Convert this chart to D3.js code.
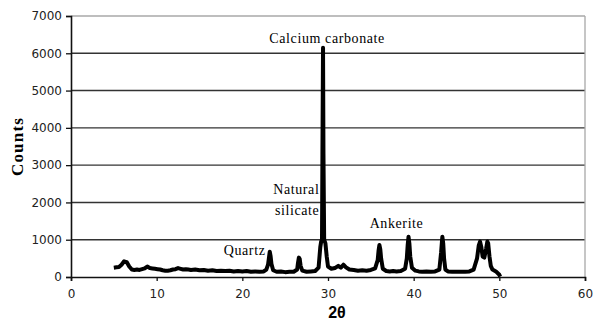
<!DOCTYPE html>
<html>
<head>
<meta charset="utf-8">
<script src="https://cdn.jsdelivr.net/npm/d3@7"></script>
<style>
  body { margin: 0; background: #fff; }
  svg { display: block; }
</style>
</head>
<body>
<div id="chart"></div>
<script>
// XRD pattern
const twoTheta = [5.0, 5.3, 5.6, 5.9, 6.2, 6.5, 6.8, 7.1, 7.4, 7.7, 8.0, 8.3, 8.6, 8.9, 9.2, 9.5, 9.8,
  10.1, 10.4, 10.7, 11.0, 11.3, 11.6, 11.9, 12.2, 12.5, 12.8, 13.1, 13.4, 13.7, 14.0, 14.5, 15.0, 15.5,
  16.0, 16.5, 17.0, 17.5, 18.0, 18.5, 19.0, 19.5, 20.0, 20.5, 21.0, 21.5, 22.0, 22.5, 22.8, 23.0, 23.1,
  23.2, 23.3, 23.4, 23.6, 24.0, 24.5, 25.0, 25.5, 26.0, 26.4, 26.5, 26.6, 26.7, 26.8, 27.0, 27.5, 28.0,
  28.5, 28.9, 29.1, 29.2, 29.3, 29.35, 29.42, 29.47, 29.55, 29.7, 29.85, 30.0, 30.4, 30.8, 31.2, 31.5,
  31.8, 32.1, 32.5, 33.0, 33.5, 34.0, 34.5, 35.0, 35.5, 35.8, 35.9, 36.0, 36.1, 36.2, 36.4, 36.8, 37.2,
  37.6, 38.0, 38.5, 39.0, 39.2, 39.3, 39.4, 39.5, 39.6, 39.8, 40.2, 40.6, 41.0, 41.5, 42.0, 42.5, 43.0,
  43.2, 43.3, 43.35, 43.45, 43.55, 43.7, 44.0, 44.5, 45.0, 45.5, 46.0, 46.5, 47.0, 47.4, 47.6, 47.75,
  47.9, 48.05, 48.25, 48.45, 48.6, 48.7, 48.85, 49.0, 49.2, 49.6, 50.0, 50.1];
const counts = [250, 260, 270, 330, 420, 400, 280, 200, 190, 200, 190, 210, 230, 280, 240, 230, 220,
  210, 200, 180, 170, 170, 180, 200, 210, 240, 220, 200, 210, 200, 190, 200, 180, 190,
  170, 180, 160, 170, 160, 170, 150, 160, 150, 160, 140, 150, 140, 150, 200, 330, 500,
  680, 560, 350, 180, 140, 150, 130, 140, 140, 200, 380, 520, 480, 300, 170, 140, 150,
  160, 250, 800, 950, 1000, 3300, 6150, 3300, 1000, 900, 550, 280, 220, 240, 300, 250,
  330, 260, 200, 190, 170, 180, 170, 190, 230, 450, 700, 860, 750, 500, 220, 160, 150,
  160, 150, 160, 220, 500, 850, 1080, 900, 550, 250, 170, 150, 140, 150, 140, 150, 200,
  650, 950, 1080, 900, 500, 200, 150, 140, 140, 140, 140, 150, 200, 500, 850, 950,
  800, 550, 520, 750, 950, 900, 550, 300, 200, 150, 60, 10];

const xTicks = [0, 10, 20, 30, 40, 50, 60];
const yTicks = [0, 1000, 2000, 3000, 4000, 5000, 6000, 7000];

const labels = [
  {text: "Calcium carbonate", x: 29.9, y: 6270, anchor: "middle"},
  {text: "Natural", x: 29.0, y: 2220, anchor: "end"},
  {text: "silicate", x: 29.0, y: 1660, anchor: "end"},
  {text: "Ankerite", x: 38.0, y: 1310, anchor: "middle"},
  {text: "Quartz", x: 22.7, y: 580, anchor: "end"}
];

const W = 593, H = 327;
const margin = {top: 16, right: 8, bottom: 50, left: 71};
const width = W - margin.left - margin.right,
      height = H - margin.top - margin.bottom;

const svg = d3.select("#chart").append("svg")
  .attr("width", W)
  .attr("height", H);

const g = svg.append("g")
  .attr("transform", `translate(${margin.left},${margin.top})`);

const x = d3.scaleLinear().domain([0, 60]).range([0, width]);
const y = d3.scaleLinear().domain([0, 7000]).range([height, 0]);

// gridlines
g.selectAll(".grid")
  .data(yTicks.filter(d => d > 0))
  .enter().append("line")
  .attr("class", "grid")
  .attr("x1", 0).attr("x2", width)
  .attr("y1", d => y(d)).attr("y2", d => y(d))
  .attr("stroke", d => d === 7000 ? "#a8a8a8" : "#333")
  .attr("stroke-width", 1.4);

// right border
g.append("line")
  .attr("x1", width).attr("x2", width)
  .attr("y1", 0).attr("y2", height)
  .attr("stroke", "#a8a8a8").attr("stroke-width", 1.3);

const xAxis = g.append("g")
  .attr("transform", `translate(0,${height})`)
  .call(d3.axisBottom(x).tickValues(xTicks).tickSize(4).tickPadding(8));

const yAxis = g.append("g")
  .call(d3.axisLeft(y).tickValues(yTicks).tickSize(5).tickPadding(4).tickFormat(d3.format("d")));

[xAxis, yAxis].forEach(a => {
  a.select(".domain").attr("stroke", "#111").attr("stroke-width", 1.6);
  a.selectAll(".tick line").attr("stroke", "#111").attr("stroke-width", 1.3);
  a.selectAll("text")
    .attr("font-family", "DejaVu Sans, sans-serif")
    .attr("font-size", 12)
    .attr("fill", "#222");
});

// trace
const pts = twoTheta.map((t, i) => [t, counts[i]]);
const line = d3.line().x(d => x(d[0])).y(d => y(d[1]));
g.append("path")
  .datum(pts)
  .attr("d", line)
  .attr("fill", "none")
  .attr("stroke", "#000")
  .attr("stroke-width", 4)
  .attr("stroke-linejoin", "round");

// annotations
g.selectAll(".ann")
  .data(labels)
  .enter().append("text")
  .attr("class", "ann")
  .attr("x", d => x(d.x))
  .attr("y", d => y(d.y))
  .attr("text-anchor", d => d.anchor)
  .attr("font-family", "Liberation Serif, serif")
  .attr("font-size", 14)
  .attr("letter-spacing", 0.6)
  .text(d => d.text);

// axis titles
svg.append("text")
  .attr("x", margin.left + width / 2 + 9)
  .attr("y", 318)
  .attr("text-anchor", "middle")
  .attr("font-family", "Liberation Sans, Arial, sans-serif")
  .attr("font-weight", "bold")
  .attr("font-size", 16)
  .text("2θ");

svg.append("text")
  .attr("transform", `translate(23,${margin.top + height / 2}) rotate(-90)`)
  .attr("text-anchor", "middle")
  .attr("font-family", "Liberation Serif, serif")
  .attr("font-weight", "bold")
  .attr("font-size", 17)
  .attr("letter-spacing", 1.2)
  .text("Counts");
</script>
</body>
</html>
